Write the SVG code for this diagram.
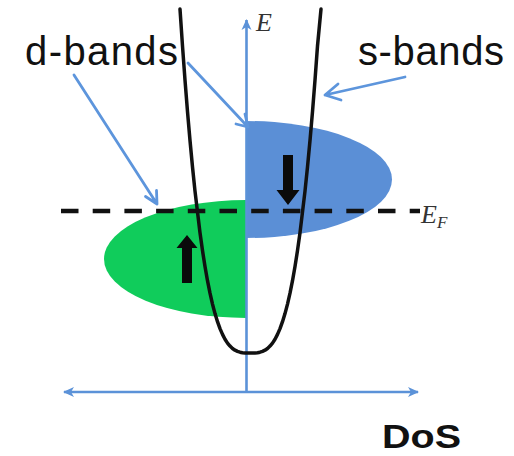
<svg xmlns="http://www.w3.org/2000/svg" width="514" height="456" viewBox="0 0 514 456">
  <style>
    .axis { stroke: #5b92d8; stroke-width: 2.6; fill: none; }
    .ptr { stroke: #5d95dc; stroke-width: 2.8; fill: none; stroke-linecap: round; stroke-linejoin: round; }
    .label { font-family: "Liberation Sans", Arial, sans-serif; font-size: 40px; fill: #111; }
    .math { font-family: "Liberation Serif", "Times New Roman", serif; font-style: italic; fill: #333; }
    .spin { fill: #0a0a0a; }
  </style>
  <defs>
    <marker id="axhead" viewBox="0 0 12 12" refX="10" refY="6" markerWidth="12" markerHeight="12" markerUnits="userSpaceOnUse" orient="auto-start-reverse">
      <path d="M0,1 L11,6 L0,11 L3,6 Z" fill="#5b92d8"/>
    </marker>
  </defs>
  <rect width="514" height="456" fill="#ffffff"/>

  <g id="d-band">
    <path d="M246,200 A142,59 0 0 0 246,318 Z" fill="#10cc5b"/>
  </g>
  <g id="s-band">
    <path d="M246,121 A146,58.5 0 0 1 246,238 Z" fill="#5b8fd6"/>
  </g>

  <g id="axes">
    <line class="axis" x1="246.5" y1="392" x2="246.5" y2="20" marker-end="url(#axhead)"/>
    <line class="axis" x1="64" y1="392" x2="418" y2="392" marker-start="url(#axhead)" marker-end="url(#axhead)"/>
    <text class="math" x="256" y="31" font-size="26">E</text>
  </g>

  <g id="fermi-level">
    <line x1="61" y1="211" x2="420" y2="211" stroke="#111" stroke-width="4.5" stroke-dasharray="17.5 14.2"/>
    <text class="math" x="421" y="223" font-size="26">E<tspan font-size="17" dy="5">F</tspan></text>
  </g>

  <g id="parabola">
    <polyline fill="none" stroke="#111" stroke-width="3.5" stroke-linejoin="round" stroke-linecap="round"
      points="180,9.1 182.5,46 185,80.1 187.5,111.6 190,140.5 192.5,167 195,191.1 200,232.8 202.5,250.6 205,266.5 207.5,280.7 210,293.2 212.5,304.1 215,313.6 217.5,321.7 220,328.6 222.5,334.4 225,339.2 227.5,343.1 230,346.1 232.5,348.5 235,350.2 237.5,351.4 240,352.2 242.5,352.7 245,352.9 250,353 255,352.9 257.5,352.7 260,352.2 262.5,351.4 265,350.2 267.5,348.5 270,346.1 272.5,343.1 275,339.2 277.5,334.4 280,328.6 282.5,321.7 285,313.6 287.5,304.1 290,293.2 292.5,280.7 295,266.5 297.5,250.6 300,232.8 305,191.1 307.5,167 310,140.5 312.5,111.6 315,80.1 317.5,46 321,9.1"/>
  </g>

  <g id="spin-up">
    <path class="spin" d="M182,283 L192,283 L192,248 L197.5,248 L187,235 L176.5,248 L182,248 Z"/>
  </g>
  <g id="spin-down">
    <path class="spin" d="M283,155 L293,155 L293,190 L299.5,190 L288,205 L276.5,190 L283,190 Z"/>
  </g>

  <g id="d-bands-label">
    <text class="label" x="25" y="65" textLength="153" lengthAdjust="spacing">d-bands</text>
  </g>
  <g id="s-bands-label">
    <text class="label" x="358" y="65" textLength="146" lengthAdjust="spacing">s-bands</text>
  </g>
  <g id="dos-label">
    <text x="382" y="448" font-family="Liberation Sans, Arial, sans-serif" font-weight="bold" font-size="34" fill="#111" textLength="79" lengthAdjust="spacingAndGlyphs">DoS</text>
  </g>

  <g id="connectors">
    <path class="ptr" d="M74,75 L157,204 M145.5,196.5 L157,204 L156.5,190.5"/>
    <path class="ptr" d="M188,63 L248,127 M236,124 L248,127 L245,114"/>
    <path class="ptr" d="M405,77 L325,95 M338,84 L325,95 L341,100"/>
  </g>
</svg>
